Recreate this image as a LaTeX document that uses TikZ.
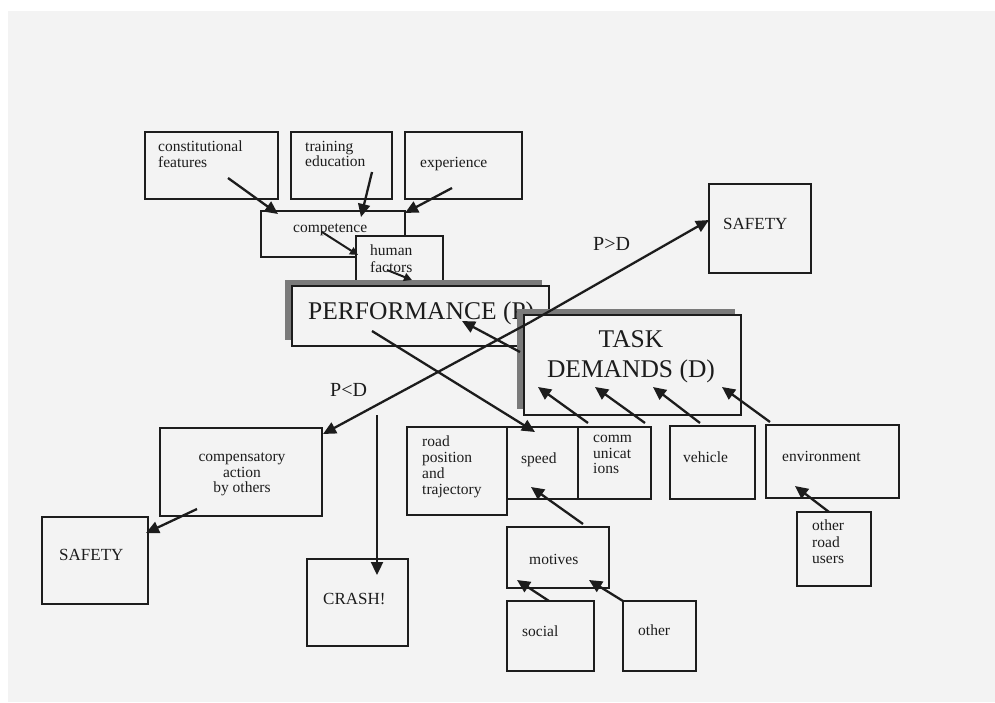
\documentclass[tikz,border=0pt]{standalone}
\usepackage{fontspec}
\setmainfont{Liberation Serif}
\usetikzlibrary{arrows.meta}
\definecolor{paper}{HTML}{F3F3F3}
\definecolor{ink}{HTML}{1C1C1C}
\definecolor{shadowgray}{HTML}{7A7A7A}

% a framed box given by its corners (left, top, right, bottom)
\newcommand\frameBox[6][]{%
  \node[box,#1,minimum width={#4-#2},minimum height={#5-#3}] (#6) at (#2,#3) {};}

\begin{document}
\begin{tikzpicture}[x=1pt,y=-1pt,
  box/.style={draw=ink,line width=1.5pt,rectangle,inner sep=0pt,outer sep=0pt,anchor=north west},
  txt/.style={font=\fontsize{15.5}{15.5}\selectfont,text=ink,inner sep=0pt,align=left},
  midtxt/.style={font=\fontsize{17}{17}\selectfont,text=ink,inner sep=0pt},
  bigtxt/.style={font=\fontsize{25.5}{30}\selectfont,text=ink,inner sep=0pt},
  arr/.style={draw=ink,line width=2.3pt,-{Triangle[length=13pt,width=12pt]}},
  smallarr/.style={draw=ink,line width=2pt,-{Triangle[length=8pt,width=8pt]}}]

% page
\fill[white] (0,0) rectangle (995,702);
\fill[paper] (8,11) rectangle (995,702);
\useasboundingbox (0,0) rectangle (995,702);

% ---- human factors ----
\frameBox{145}{132}{278}{199}{cf}
\frameBox{291}{132}{392}{199}{te}
\frameBox{405}{132}{522}{199}{ex}
\frameBox{261}{211}{405}{257}{co}
\frameBox[fill=paper]{356}{236}{443}{286}{hf}

\node[txt,anchor=north west] (cft) at (158,141) {constitutional\\features};
\node[txt,anchor=north west] (tet) at (305,141) {training\\education};
\node[txt,anchor=base west]  (ext) at (420,167) {experience};
\node[txt,anchor=base west]  (cot) at (293,232) {competence};
\node[txt,anchor=north west,font=\fontsize{15.5}{17}\selectfont] (hft) at (370,245) {human\\factors};

% ---- performance ----
\fill[shadowgray] (285,280) rectangle (542,340);
\frameBox[fill=paper]{292}{286}{549}{346}{perf}
\node[bigtxt,anchor=base west] (perft) at (308,319) {PERFORMANCE (P)};

% ---- task demands ----
\fill[shadowgray] (517,309) rectangle (735,409);
\frameBox[fill=paper]{524}{315}{741}{415}{task}
\node[bigtxt,anchor=base] (taskt) at (631,347) {TASK};
\node[bigtxt,anchor=base] (taskd) at (631,377) {DEMANDS (D)};

% ---- outcomes ----
\frameBox{709}{184}{811}{273}{safeR}
\node[midtxt,anchor=base west] (safeRt) at (723,229) {SAFETY};
\frameBox{160}{428}{322}{516}{comp}
\node[txt,anchor=north,align=center] (compt) at (242,453) {compensatory\\action\\by others};
\frameBox{42}{517}{148}{604}{safeL}
\node[midtxt,anchor=base west] (safeLt) at (59,560) {SAFETY};
\frameBox{307}{559}{408}{646}{crash}
\node[midtxt,anchor=base west] (crasht) at (323,604) {CRASH!};

\node[font=\fontsize{20}{20}\selectfont,text=ink,inner sep=0pt,anchor=base west] (pgd) at (593,250) {P>D};
\node[font=\fontsize{20}{20}\selectfont,text=ink,inner sep=0pt,anchor=base west] (pld) at (330,396) {P<D};

% ---- task factors ----
\frameBox{407}{427}{507}{515}{road}
\frameBox{507}{427}{578}{499}{speed}
\frameBox{578}{427}{651}{499}{comm}
\frameBox{670}{426}{755}{499}{veh}
\frameBox{766}{425}{899}{498}{env}
\frameBox{797}{512}{871}{586}{oru}
\frameBox{507}{527}{609}{588}{mot}
\frameBox{507}{601}{594}{671}{soc}
\frameBox{623}{601}{696}{671}{oth}

\node[txt,anchor=north west,font=\fontsize{15.5}{15.7}\selectfont] (roadt) at (422,436) {road\\position\\and\\trajectory};
\node[txt,anchor=base west] (speedt) at (521,463) {speed};
\node[txt,anchor=north west,font=\fontsize{15.5}{15.5}\selectfont] (commt) at (593,435) {comm\\unicat\\ions};
\node[txt,anchor=base west] (veht) at (683,462) {vehicle};
\node[txt,anchor=base west] (envt) at (782,461) {environment};
\node[txt,anchor=north west,font=\fontsize{15.5}{16.5}\selectfont] (orut) at (812,520) {other\\road\\users};
\node[txt,anchor=base west] (mott) at (529,564) {motives};
\node[txt,anchor=base west] (soct) at (522,636) {social};
\node[txt,anchor=base west] (otht) at (638,635) {other};

% ---- connectors ----
\draw[arr] ([shift={(83,46)}]cf.north west) -- ([shift={(17,3)}]co.north west);
\draw[arr] ([shift={(81,40)}]te.north west) -- ([shift={(100,6)}]co.north west);
\draw[arr] ([shift={(47,56)}]ex.north west) -- ([shift={(144,2)}]co.north west);
\draw[smallarr] ([shift={(61,21)}]co.north west) -- ([shift={(2,19)}]hf.north west);
\draw[smallarr] ([shift={(31,34)}]hf.north west) -- ([shift={(56,44)}]hf.north west);

\draw[arr] ([shift={(-4,37)}]task.north west) -- ([shift={(170,35)}]perf.north west);

\coordinate (fork) at (530,322.3);
\draw[arr] (fork) -- ([shift={(0,36)}]safeR.north west);
\draw[arr] (fork) -- ([shift={(1,6)}]comp.north east);

\coordinate (pstart) at (377,415);
\draw[arr] (pstart) -- ([shift={(70,16)}]crash.north west);
\draw[arr] ([shift={(80,45)}]perf.north west) -- ([shift={(28,5)}]speed.north west);

\draw[arr] ([shift={(37,-7)}]comp.south west) -- ([shift={(-2,16)}]safeL.north east);

\draw[arr] ([shift={(10,-4)}]comm.north west) -- ([shift={(14,72)}]task.north west);
\draw[arr] ([shift={(67,-4)}]comm.north west) -- ([shift={(71,72)}]task.north west);
\draw[arr] ([shift={(30,-3)}]veh.north west) -- ([shift={(129,72)}]task.north west);
\draw[arr] ([shift={(4,-3)}]env.north west) -- ([shift={(198,72)}]task.north west);

\draw[arr] ([shift={(76,-3)}]mot.north west) -- ([shift={(24,60)}]speed.north west);
\draw[arr] ([shift={(42,0)}]soc.north west) -- ([shift={(10,53)}]mot.north west);
\draw[arr] (oth.north west) -- ([shift={(82,53)}]mot.north west);
\draw[arr] ([shift={(32,0)}]oru.north west) -- ([shift={(29,61)}]env.north west);
\end{tikzpicture}
\end{document}
